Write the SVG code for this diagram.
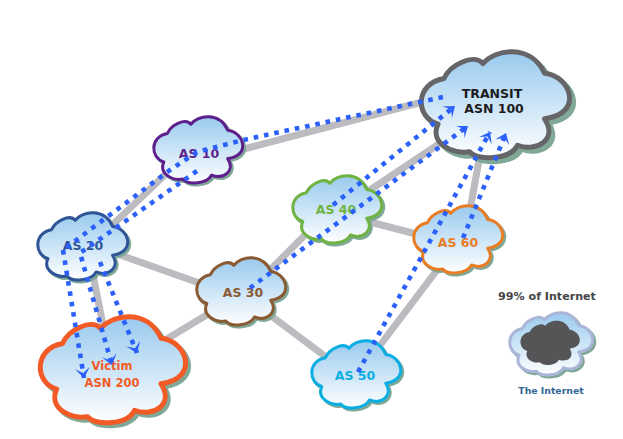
<svg xmlns="http://www.w3.org/2000/svg" width="623" height="439" viewBox="0 0 623 439">
<style>
.link{stroke:#bbbbc0;stroke-width:7;fill:none}
.flow{stroke:#2b60fb;stroke-width:4.6;stroke-dasharray:4.6 5.9;fill:none}
.arr{marker-end:url(#chev)}
.sh{fill:#7fa897;stroke:#7fa897;stroke-width:3;stroke-linejoin:round}
.c{fill:url(#sky);stroke-width:3;stroke-linejoin:round}
.t{font-family:"DejaVu Sans",Verdana,sans-serif;font-weight:700;font-size:12.5px;text-anchor:middle}
#cloud path{vector-effect:non-scaling-stroke}
</style>
<defs>
<linearGradient id="sky" x1="0" y1="0" x2="0" y2="1"><stop offset="0" stop-color="#98caee"/><stop offset="1" stop-color="#ffffff"/></linearGradient>
<marker id="chev" markerUnits="userSpaceOnUse" markerWidth="10" markerHeight="15" refX="10" refY="7.5" orient="auto" viewBox="0 0 10 15"><path d="M0 0L10 7.5L0 15L5 7.5Z" fill="#2b60fb"/></marker>
<g id="cloud"><path d="M16 25C20 12 36 1 42 11C50 -3 74 -8 83 20C100 22 110 58 83 63C92 82 78 95 65 88C60 102 38 103 33 94C22 97 6 86 12 68C-3 62 -4 30 16 25Z"/></g>
</defs>
<rect width="623" height="439" fill="#fff"/>
<g id="connectors">
<path class="link" d="M240 150L430 100"/>
<path class="link" d="M105 232L170 170"/>
<path class="link" d="M120 255L205 285"/>
<path class="link" d="M93 275L104 330"/>
<path class="link" d="M165 340L215 310"/>
<path class="link" d="M270 270L310 230"/>
<path class="link" d="M370 190L445 140"/>
<path class="link" d="M370 222L420 235"/>
<path class="link" d="M470 210L480 155"/>
<path class="link" d="M437 270L378 348"/>
<path class="link" d="M270 315L330 360"/>
</g>
<g id="as10"><use href="#cloud" class="sh" transform="translate(155 119) scale(.9 .66)"/><use href="#cloud" class="c" stroke="#5e1f8c" transform="translate(153 117) scale(.9 .66)"/><text class="t" x="199" y="158" fill="#5e1f8c">AS 10</text></g>
<g id="as20"><use href="#cloud" class="sh" transform="translate(39 215) scale(.91 .67)"/><use href="#cloud" class="c" stroke="#2f5597" transform="translate(37 213) scale(.91 .67)"/><text class="t" x="83" y="250" fill="#2f5597">AS 20</text></g>
<g id="victim"><use href="#cloud" class="sh" transform="translate(42 320) scale(1.47 1.06)" style="stroke-width:5"/><use href="#cloud" class="c" stroke="#f25a26" style="stroke-width:5" transform="translate(39 317) scale(1.47 1.06)"/><text class="t" x="112" y="370" fill="#f25a26" style="font-size:11.5px">Victim</text><text class="t" x="112" y="387" fill="#f25a26" style="font-size:11.5px">ASN 200</text></g>
<g id="as30"><use href="#cloud" class="sh" transform="translate(198 260) scale(.9 .67)"/><use href="#cloud" class="c" stroke="#8a5a33" transform="translate(196 258) scale(.9 .67)"/><text class="t" x="243" y="297" fill="#8a5a33">AS 30</text></g>
<g id="as40"><use href="#cloud" class="sh" transform="translate(294 178) scale(.9 .67)"/><use href="#cloud" class="c" stroke="#6fb342" transform="translate(292 176) scale(.9 .67)"/><text class="t" x="336" y="214" fill="#6fb342">AS 40</text></g>
<g id="as60"><use href="#cloud" class="sh" transform="translate(415 208) scale(.9 .67)"/><use href="#cloud" class="c" stroke="#e87d24" transform="translate(413 206) scale(.9 .67)"/><text class="t" x="458" y="247" fill="#e87d24">AS 60</text></g>
<g id="as50"><use href="#cloud" class="sh" transform="translate(313 343) scale(.9 .67)"/><use href="#cloud" class="c" stroke="#0aaee2" transform="translate(311 341) scale(.9 .67)"/><text class="t" x="355" y="380" fill="#0aaee2">AS 50</text></g>
<g id="transit"><use href="#cloud" class="sh" transform="translate(424 56) scale(1.5 1.06)" style="stroke-width:5"/><use href="#cloud" class="c" stroke="#666668" style="stroke-width:5" transform="translate(420 52) scale(1.5 1.06)"/><text class="t" x="492" y="98" fill="#1d1d1f">TRANSIT</text><text class="t" x="494" y="113" fill="#1d1d1f">ASN 100</text></g>
<g id="internet"><use href="#cloud" class="sh" transform="translate(511 315) scale(.84 .62)"/><use href="#cloud" class="c" stroke="#aab6d8" transform="translate(509 313) scale(.84 .62)"/><use href="#cloud" fill="#555558" transform="translate(520 321) scale(.6 .44)"/><text class="t" x="547" y="300" fill="#444448" style="font-size:11.1px">99% of Internet</text><text class="t" x="551" y="394" fill="#2f6694" style="font-size:9.3px">The Internet</text></g>
<g id="flows">
<path class="flow" d="M443 97L243 140L197 152L170 170L63 250"/>
<path class="flow arr" d="M63 250L84 378"/>
<path class="flow arr" d="M197 171L80 253L112 365"/>
<path class="flow arr" d="M100 262L137 353"/>
<path class="flow arr" d="M333 205L455 106"/>
<path class="flow arr" d="M250 288L468 126"/>
<path class="flow arr" d="M358 372L490 132"/>
<path class="flow arr" d="M463 238L506 133"/>
</g>
</svg>
